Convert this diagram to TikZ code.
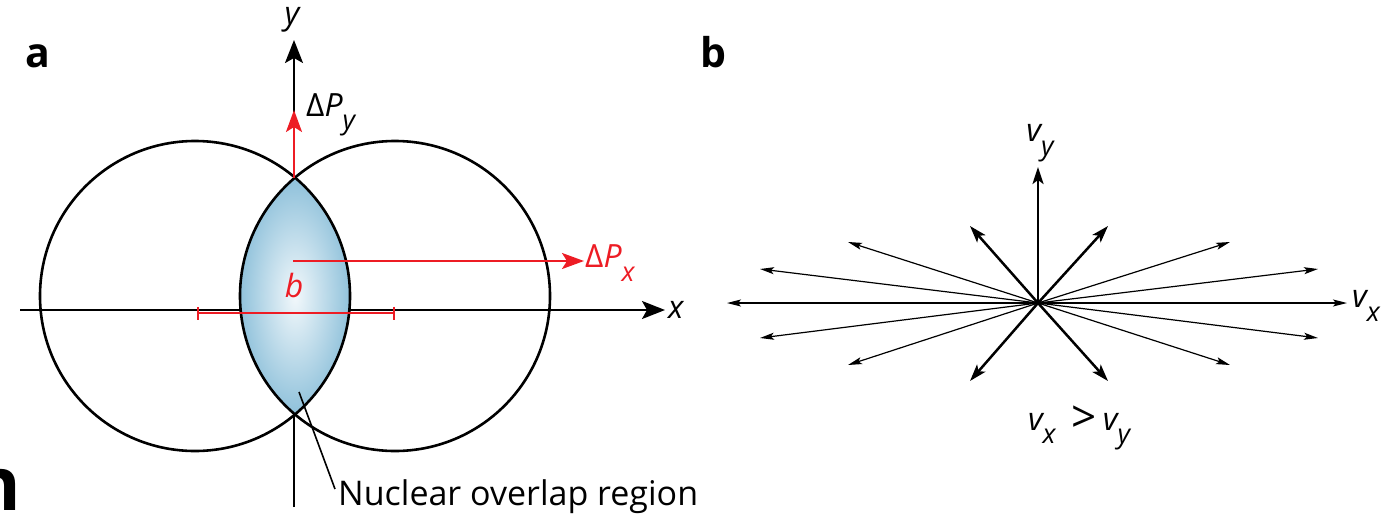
\documentclass[tikz,border=0pt]{standalone}
\usepackage{fontspec}
\setmainfont{Open Sans}
\usetikzlibrary{arrows.meta}
\definecolor{myred}{HTML}{ED1C24}
\definecolor{lensblue}{HTML}{8DC0DA}
\definecolor{lenswhite}{HTML}{F2F8FB}
\newcommand\lowsub[1]{\raisebox{-0.42em}{\fontsize{27}{27}\selectfont #1}}
\begin{document}
\begin{tikzpicture}[x=1pt,y=-1pt,
  axis/.style={line width=2.1pt, -{Stealth[length=23pt,width=18pt,inset=5pt]}},
  redarrow/.style={myred, line width=2.3pt, -{Stealth[length=22pt,width=16pt,inset=5pt]}},
  circ/.style={line width=2.6pt},
  thinv/.style={line width=1.2pt, -{Stealth[length=14pt,width=7pt,inset=3pt]}},
  thickv/.style={line width=2.5pt, -{Stealth[length=17pt,width=11pt,inset=4pt]}},
  lbl/.style={inner sep=0pt, font=\fontsize{32}{32}\selectfont\itshape},
  panel/.style={inner sep=0pt, font=\fontsize{41}{41}\selectfont\bfseries},
  plain/.style={inner sep=0pt, font=\fontsize{34}{34}\selectfont}]
\useasboundingbox (0,0) rectangle (1392,520);
% ---- panel a ----
\node[panel, anchor=base west] (pa) at (25,67) {a};
\node[inner sep=0pt, anchor=base east, font=\fontsize{74}{74}\selectfont\bfseries] (nfrag) at (21,510) {n};
\coordinate (cL) at (195,296);
\coordinate (cR) at (395,296);
\coordinate (xs) at (20,310);
\coordinate (xe) at (665,310);
\coordinate (ys) at (294,507);
\coordinate (ye) at (294,40);
\draw[axis] (xs) -- (xe);
\draw[axis] (ys) -- (ye);
\begin{scope}
  \clip (cL) circle[radius=155pt];
  \clip (cR) circle[radius=155pt];
  \shade[inner color=lenswhite, outer color=lensblue] (238,176) rectangle (352,416);
\end{scope}
\draw[circ] (cL) circle[radius=155pt];
\draw[circ] (cR) circle[radius=155pt];
\node[lbl, anchor=center] (ylab) at (292,20) {y};
\node[lbl, anchor=west] (xlab) at (668,310) {x};
% red
\coordinate (b1) at (197,313);
\coordinate (b2) at (395,313);
\draw[myred, line width=2pt, {Bar[width=13pt]}-{Bar[width=13pt]}] (b1) -- (b2);
\coordinate (px0) at (293,261);
\coordinate (px1) at (584,261);
\draw[redarrow] (px0) -- (px1);
\coordinate (py0) at (294,178);
\coordinate (py1) at (294,110);
\draw[redarrow] (py0) -- (py1);
\node[lbl, myred, anchor=center] (blab) at (294,285) {b};
\node[lbl, myred, anchor=west] (dpx) at (585,263) {{\upshape Δ}P\lowsub{x}};
\node[lbl, anchor=west] (dpy) at (306,115) {{\upshape Δ}P\lowsub{y}};
% pointer
\coordinate (pt0) at (299,392);
\node[plain, anchor=west] (nuc) at (338,497) {Nuclear overlap region};
\coordinate (pt1) at (335,489);
\draw[line width=1.6pt] (pt0) -- (pt1);
% ---- panel b ----
\node[panel, anchor=base west] (pb) at (700,67) {b};
\coordinate (O) at (1038,303);
\foreach \p in {(727,303),(1347,303),(760,269),(1318,269),(760,338),(1318,338),(848,242),(1230,242),(848,365),(1230,365)}
  \draw[thinv] (O) -- \p;
\foreach \p in {(970,226),(1108,226),(970,381),(1108,381),(1038,167)}
  \draw[thickv] (O) -- \p;
\node[lbl, anchor=center] (vy) at (1040,143) {v\lowsub{y}};
\node[lbl, anchor=west] (vx) at (1352,306) {v\lowsub{x}};
\node[lbl, anchor=center] (vxy) at (1079,428) {v\lowsub{x}\hspace{16pt}{\upshape\fontsize{44}{44}\selectfont\raisebox{-2pt}{>}}\hspace{6pt}v\lowsub{y}};
\end{tikzpicture}
\end{document}
